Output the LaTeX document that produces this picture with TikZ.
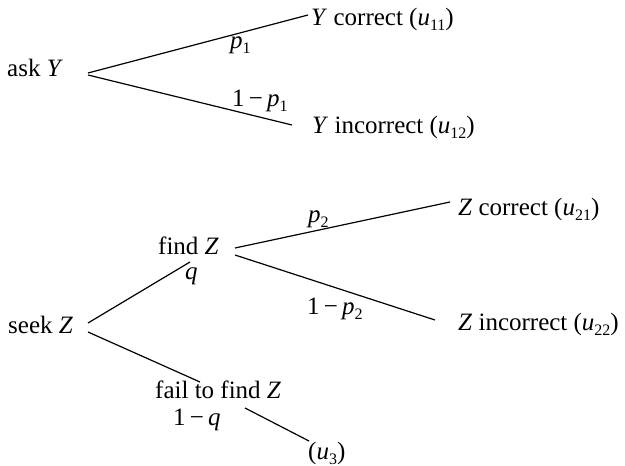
\documentclass[tikz,border=0pt]{standalone}
\usepackage{fontspec}
\setmainfont{Liberation Serif}
\usetikzlibrary{calc}
\newcommand\sbx[1]{\raisebox{-0.2em}{\fontsize{16}{16}\selectfont #1}}
\newcommand\mn{\,\char"2212\,}
\begin{document}
\begin{tikzpicture}[x=1pt,y=-1pt,
  lbl/.style={inner sep=0pt,anchor=base west,font=\fontsize{25}{28}\selectfont},
  br/.style={line width=1.2pt}]
\useasboundingbox (0,0) rectangle (625,466);
% nodes
\node[lbl] (askY) at (7,76) {ask \textit{Y}};
\node[lbl] (Ycor) at (311,25) {\textit{Y} correct (\textit{u}\sbx{11})};
\node[lbl] (Yinc) at (312,133) {\textit{Y} incorrect (\textit{u}\sbx{12})};
\node[lbl] (findZ) at (158,254) {find \textit{Z}};
\node[lbl] (Zcor) at (458,215) {\textit{Z} correct (\textit{u}\sbx{21})};
\node[lbl] (Zinc) at (458,330) {\textit{Z} incorrect (\textit{u}\sbx{22})};
\node[lbl] (seekZ) at (8,333) {seek \textit{Z}};
\node[lbl] (fail) at (155,398) {fail to find \textit{Z}};
\node[lbl] (u3) at (308,459) {(\textit{u}\sbx{3})};
% probabilities
\node[lbl] (lp1) at (230,48) {\textit{p}\sbx{1}};
\node[lbl] (lq1) at (232,106) {1\mn\textit{p}\sbx{1}};
\node[lbl] (lp2) at (308,222) {\textit{p}\sbx{2}};
\node[lbl] (lq2) at (307,314) {1\mn\textit{p}\sbx{2}};
\node[lbl] (lq) at (185,279) {\textit{q}};
\node[lbl] (l1q) at (173,425) {1\mn\textit{q}};
% connectors
\draw[br] ($(askY.base west)+(81,-3)$) -- ($(Ycor.base west)+(-3,-10)$);
\draw[br] ($(askY.base west)+(81,-1)$) -- ($(Yinc.base west)+(-20,-8)$);
\draw[br] ($(findZ.base west)+(77,-6)$) -- ($(Zcor.base west)+(-8,-13)$);
\draw[br] ($(findZ.base west)+(77,1)$) -- ($(Zinc.base west)+(-23,-10)$);
\draw[br] ($(seekZ.base west)+(80,-10)$) -- ($(findZ.base west)+(32,8)$);
\draw[br] ($(seekZ.base west)+(80,-1)$) -- ($(fail.base west)+(45,-16)$);
\draw[br] ($(fail.base west)+(90,10)$) -- ($(u3.base west)+(1,-18)$);
\end{tikzpicture}
\end{document}
